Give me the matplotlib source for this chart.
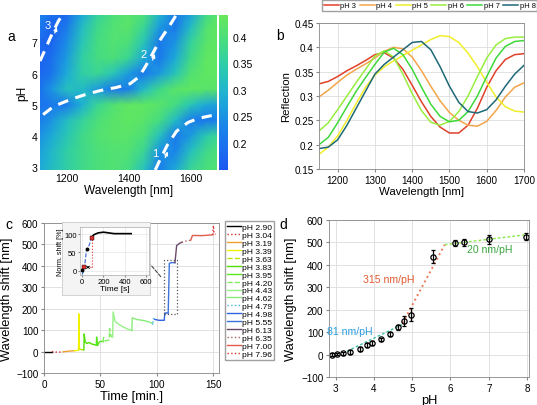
import numpy as np
import matplotlib
matplotlib.use('Agg')
import matplotlib.pyplot as plt
from matplotlib.colors import LinearSegmentedColormap

plt.rcParams['font.family'] = ['Liberation Sans', 'DejaVu Sans']

# ---------------- Panel a data ----------------
heat_wl = [1115, 1150, 1200, 1250, 1300, 1350, 1400, 1450, 1500, 1550, 1600, 1650, 1685]
heat_ph = [2.9, 3.5, 4.0, 4.5, 5.0, 5.5, 6.0, 6.5, 7.0, 7.5, 7.9]
heat_refl = [
    [0.28, 0.31, 0.35, 0.38, 0.40, 0.41, 0.39, 0.32, 0.22, 0.28, 0.37, 0.40, 0.41],
    [0.27, 0.30, 0.35, 0.38, 0.40, 0.41, 0.41, 0.37, 0.25, 0.23, 0.32, 0.38, 0.40],
    [0.25, 0.28, 0.33, 0.38, 0.41, 0.42, 0.42, 0.40, 0.32, 0.21, 0.26, 0.34, 0.37],
    [0.22, 0.25, 0.31, 0.36, 0.40, 0.42, 0.43, 0.42, 0.39, 0.31, 0.22, 0.21, 0.22],
    [0.20, 0.21, 0.21, 0.29, 0.37, 0.41, 0.43, 0.43, 0.42, 0.39, 0.33, 0.28, 0.27],
    [0.20, 0.25, 0.32, 0.31, 0.26, 0.21, 0.22, 0.31, 0.38, 0.42, 0.43, 0.42, 0.42],
    [0.18, 0.20, 0.28, 0.35, 0.37, 0.33, 0.26, 0.21, 0.26, 0.33, 0.41, 0.43, 0.43],
    [0.17, 0.19, 0.26, 0.35, 0.39, 0.40, 0.37, 0.28, 0.21, 0.28, 0.38, 0.43, 0.43],
    [0.18, 0.17, 0.24, 0.33, 0.39, 0.41, 0.40, 0.33, 0.21, 0.25, 0.36, 0.42, 0.43],
    [0.21, 0.17, 0.21, 0.31, 0.38, 0.41, 0.42, 0.37, 0.26, 0.21, 0.31, 0.41, 0.43],
    [0.23, 0.19, 0.18, 0.28, 0.36, 0.40, 0.42, 0.40, 0.30, 0.21, 0.27, 0.38, 0.42],
]
min1_wl = [1486, 1505, 1525, 1555, 1592, 1625, 1668]
min1_ph = [2.9, 3.3, 3.7, 4.15, 4.43, 4.56, 4.65]
min2_wl = [1125, 1160, 1217, 1260, 1308, 1360, 1405, 1432, 1450, 1470, 1500, 1530, 1555]
min2_ph = [4.68, 4.95, 5.18, 5.32, 5.45, 5.55, 5.67, 5.88, 6.15, 6.5, 7.05, 7.5, 7.9]
min3_wl = [1115, 1135, 1155, 1175, 1188]
min3_ph = [6.4, 6.85, 7.3, 7.7, 7.88]

# ---------------- Panel b data ----------------
spec_wl = [1150, 1175, 1200, 1225, 1250, 1275, 1300, 1325, 1350, 1375, 1400, 1425,
           1450, 1475, 1500, 1525, 1550, 1575, 1600, 1625, 1650, 1675, 1700]
spec_ph3 = [.325, .330, .340, .352, .362, .373, .385, .389, .378, .355, .322, .288,
            .258, .236, .224, .224, .240, .275, .318, .352, .375, .385, .387]
spec_ph4 = [.298, .312, .328, .343, .355, .366, .378, .392, .400, .397, .380, .352,
            .320, .290, .266, .250, .240, .238, .248, .270, .298, .318, .327]
spec_ph5 = [.180, .195, .218, .250, .285, .318, .343, .360, .372, .383, .394, .405,
            .416, .424, .422, .410, .388, .360, .328, .298, .278, .269, .267]
spec_ph6 = [.228, .245, .272, .300, .328, .355, .382, .393, .380, .345, .305, .270,
            .246, .240, .248, .268, .300, .340, .378, .405, .418, .421, .421]
spec_ph7 = [.200, .215, .245, .278, .310, .338, .365, .390, .398, .385, .355, .318,
            .283, .258, .247, .250, .268, .300, .340, .378, .402, .412, .414]
spec_ph8 = [.192, .195, .210, .240, .275, .310, .345, .365, .380, .395, .410, .412,
            .395, .360, .320, .287, .268, .265, .272, .292, .320, .345, .363]
spec_labels = ['pH 3', 'pH 4', 'pH 5', 'pH 6', 'pH 7', 'pH 8']
spec_colors = ['#e0402a', '#f2a54a', '#f0ee2a', '#98ee40', '#3ed83a', '#1e6878']

# ---------------- Panel c data ----------------
c_labels = ['pH 2.90', 'pH 3.04', 'pH 3.19', 'pH 3.39', 'pH 3.63', 'pH 3.83', 'pH 3.95',
            'pH 4.20', 'pH 4.43', 'pH 4.62', 'pH 4.79', 'pH 4.98', 'pH 5.55', 'pH 6.13',
            'pH 6.35', 'pH 7.00', 'pH 7.96']
c_colors = ['#000000', '#d83030', '#f0a030', '#f0f000', '#b8e800', '#50e000', '#58e820',
            '#80f060', '#98f088', '#88ec78', '#40b8e0', '#2e64e0', '#3c72d8', '#6a4a6a',
            '#a86060', '#e25a48', '#e03030']
c_styles = ['-', ':', '-', '-', '--', '-', '-', '--', '-', '-', ':', '-', '-', '-', ':', '-', ':']
c_t = [
    [0, 7], [7, 12, 17], [17, 22, 27], [27, 30.6, 30.8, 31.3], [31.3, 33, 35.3],
    [35.3, 35.6, 36.5, 38, 40, 42, 44, 46.3],
    [46.3, 46.6, 47.5, 49, 51, 52.4],
    [52.4, 52.7, 54, 56, 57.8, 58.1, 59.5, 60.8],
    [60.8, 61.2, 63, 66, 70, 74, 77.8],
    [77.8, 78.2, 82, 88, 92, 96],
    [96, 96.3, 97, 98],
    [98, 102, 106.5, 107, 110],
    [110, 111, 113, 116],
    [116, 117.5, 120, 122],
    [122, 126, 130],
    [130, 131.5, 140, 149.5],
    [149.5, 150, 150.6, 152],
]
c_y = [
    [0, 0], [0, -3, -1], [-1, 2, 4], [4, 6, 176, 12], [12, 9, 8],
    [8, 82, 45, 38, 42, 36, 33, 30],
    [30, 68, 28, 45, 48, 46],
    [46, 66, 50, 52, 55, 108, 70, 68],
    [68, 185, 140, 128, 115, 105, 98],
    [98, 158, 150, 145, 140, 132],
    [132, 125, 155, 150],
    [150, 146, 146, 180, 180],
    [180, 412, 415, 415],
    [415, 495, 505, 510],
    [510, 516, 520],
    [520, 542, 541, 545],
    [545, 588, 550, 548],
]
inset_blue_t = [0, 20, 40, 60, 90]
inset_blue_y = [-10, 5, 55, 65, 90]
inset_black_t = [90, 110, 150, 200, 300, 400, 460]
inset_black_y = [92, 98, 103, 105, 101, 101, 101]

# ---------------- Panel d data ----------------
d_ph = [2.90, 3.04, 3.19, 3.39, 3.63, 3.83, 3.95, 4.20, 4.43, 4.62, 4.79, 4.98, 5.55,
        6.13, 6.35, 7.00, 7.96]
d_shift = [0, 2, 6, 12, 25, 42, 52, 68, 92, 122, 148, 178, 437, 497, 500, 515, 525]
d_err = [5, 5, 6, 8, 8, 8, 8, 8, 8, 12, 22, 30, 30, 15, 15, 20, 15]
fit1_ph = [3.3, 4.75]; fit1_y = [15, 135]
fit2_ph = [4.75, 5.85]; fit2_y = [140, 490]
fit3_ph = [5.85, 8.0]; fit3_y = [490, 535]

W, H = 537, 406
fig = plt.figure(figsize=(W / 100, H / 100), dpi=100)

def ax_px(l, t, r, b):
    return fig.add_axes([l / W, 1 - b / H, (r - l) / W, (b - t) / H])

grid_kw = dict(color='#dddddd', linewidth=0.6)
TICK = 7.1

# ---- panel a ----
axa = ax_px(40, 16, 217, 171)
cmap = LinearSegmentedColormap.from_list('bg', [
    (0.0, '#1c58f2'), (0.28, '#1a84ea'), (0.48, '#1eb0d4'),
    (0.66, '#2ccbae'), (0.82, '#44dc84'), (1.0, '#66e85a')])
X, Y = np.meshgrid(heat_wl, heat_ph)
pm = axa.pcolormesh(X, Y, np.array(heat_refl), shading='gouraud', cmap=cmap,
                    vmin=0.149, vmax=0.441)
for wl, ph in [(min1_wl, min1_ph), (min2_wl, min2_ph), (min3_wl, min3_ph)]:
    axa.plot(wl, ph, color='white', lw=2.2, dashes=(3.5, 2.5))
axa.set_xlim(1115, 1685)
axa.set_ylim(2.9, 7.88)
axa.set_xticks([1200, 1400, 1600])
axa.set_yticks([3, 4, 5, 6, 7])
axa.tick_params(labelsize=7.6, length=0, pad=2)
for s in axa.spines.values():
    s.set_visible(False)
axa.set_xlabel('Wavelength [nm]', fontsize=8.6, labelpad=1)
axa.set_ylabel('pH', fontsize=8.6, labelpad=2)
for lab, (tx, ty), (ax0, ay0, ax1, ay1) in [
        ('1', (1486, 3.46), (1515, 3.22, 1530, 3.58)),
        ('2', (1450, 6.63), (1475, 6.35, 1487, 6.72)),
        ('3', (1140, 7.55), (1160, 7.22, 1172, 7.58))]:
    axa.text(tx, ty, lab, color='white', fontsize=8, ha='center', va='center')
    axa.annotate('', xy=(ax1, ay1), xytext=(ax0, ay0),
                 arrowprops=dict(arrowstyle='-|>', color='white', lw=1.0,
                                 mutation_scale=5))
cax = ax_px(219, 16, 228, 171)
cb = fig.colorbar(pm, cax=cax, ticks=[0.2, 0.25, 0.3, 0.35, 0.4])
cb.ax.set_yticklabels(['0.2', '0.25', '0.3', '0.35', '0.4'])
cb.ax.tick_params(labelsize=7.6, length=0, pad=3)
cb.outline.set_visible(False)
fig.text(7 / W, 1 - 37 / H, 'a', fontsize=10, va='center')

# ---- panel b ----
axb = ax_px(319, 24, 524, 170)
specs = [spec_ph3, spec_ph4, spec_ph5, spec_ph6, spec_ph7, spec_ph8]
handles = []
for sp, lab, col in zip(specs, spec_labels, spec_colors):
    h, = axb.plot(spec_wl, sp, color=col, lw=1.1, label=lab)
    handles.append(h)
axb.set_xlim(1150, 1700)
axb.set_ylim(0.15, 0.45)
axb.set_xticks([1200, 1300, 1400, 1500, 1600, 1700])
axb.set_yticks([0.15, 0.2, 0.25, 0.3, 0.35, 0.4, 0.45])
axb.set_yticklabels(['0.15', '0.2', '0.25', '0.3', '0.35', '0.4', '0.45'])
axb.grid(True, **grid_kw)
axb.tick_params(labelsize=TICK, length=2, pad=2, color='#888888')
for s in axb.spines.values():
    s.set_color('#888888'); s.set_linewidth(0.6)
axb.set_xlabel('Wavelength [nm]', fontsize=8.2, labelpad=1)
axb.set_ylabel('Reflection', fontsize=8.2, labelpad=2)
fig.legend(handles=handles, loc='upper left', bbox_to_anchor=(322 / W, 1 - 1 / H),
           ncol=6, fontsize=5.4, handlelength=2.0, handletextpad=0.2, columnspacing=0.45,
           borderpad=0.25, borderaxespad=0, frameon=True, fancybox=False,
           edgecolor='#888888')
fig.text(276 / W, 1 - 36 / H, 'b', fontsize=10, va='center')

# ---- panel c ----
axc = ax_px(44, 224, 219, 374)
ch = []
for t, y, col, ls, lab in zip(c_t, c_y, c_colors, c_styles, c_labels):
    h, = axc.plot(t, y, color=col, ls=ls, lw=1.0, label=lab)
    ch.append(h)
axc.plot([106.5, 117.5, 117.5, 106.5, 106.5], [175, 175, 428, 428, 175],
         color='#555555', ls=':', lw=0.9)
axc.annotate('', xy=(77, 512), xytext=(105, 340),
             arrowprops=dict(arrowstyle='-|>', color='#333333', lw=0.7, ls='--',
                             mutation_scale=9))
axc.set_xlim(0, 155)
axc.set_ylim(-100, 600)
axc.set_xticks([0, 50, 100, 150])
axc.set_yticks(list(range(-100, 601, 100)))
axc.grid(True, **grid_kw)
axc.tick_params(labelsize=TICK, length=2, pad=2, color='#888888')
for s in axc.spines.values():
    s.set_color('#888888'); s.set_linewidth(0.6)
axc.set_xlabel('Time [min.]', fontsize=9.3, labelpad=1)
axc.set_ylabel('Wavelength shift [nm]', fontsize=9.3, labelpad=2)
fig.legend(handles=ch, loc='upper left', bbox_to_anchor=(225 / W, 1 - 222 / H),
           fontsize=6.1, handlelength=1.6, handletextpad=0.1, labelspacing=0.0,
           borderpad=0.25, borderaxespad=0, frameon=True, fancybox=False,
           edgecolor='#888888')
fig.text(5 / W, 1 - 225 / H, 'c', fontsize=10, va='center')

# inset frame + axes
frame = ax_px(62, 223, 150, 296)
frame.set_xticks([]); frame.set_yticks([])
frame.set_facecolor('#f4f4f4')
for s in frame.spines.values():
    s.set_color('#cccccc'); s.set_linewidth(0.6)
axi = ax_px(80, 228, 149, 276)
axi.plot(inset_blue_t, inset_blue_y, color='#3060d0', ls='--', lw=0.8)
axi.plot(inset_black_t, inset_black_y, color='black', lw=1.2)
axi.plot([95, 95], [10, 90], color='#e03030', ls=':', lw=0.8)
axi.plot([15, 95], [10, 10], color='#e03030', ls=':', lw=0.8)
axi.annotate('', xy=(95, 10), xytext=(15, 10),
             arrowprops=dict(arrowstyle='<->', color='black', lw=0.6, mutation_scale=4))
axi.plot([15, 95], [10, 90], 's', ms=2.5, mfc='#e03030', mec='black', mew=0.3)
axi.plot([3, 45], [2, 60], 'o', ms=1.8, color='black')
axi.set_xlim(-20, 627)
axi.set_ylim(-11, 119)
axi.set_xticks([0, 200, 400, 600])
axi.set_yticks([0, 50, 100])
axi.grid(True, color='#e4e4e4', linewidth=0.5)
axi.tick_params(labelsize=5.5, length=1.5, pad=1, color='#888888')
for s in axi.spines.values():
    s.set_color('#aaaaaa'); s.set_linewidth(0.5)
axi.set_xlabel('Time [s]', fontsize=6, labelpad=0)
axi.set_ylabel('Norm. shift [%]', fontsize=5.2, labelpad=0)

# ---- panel d ----
axd = ax_px(329, 221, 529, 378)
axd.plot(fit1_ph, fit1_y, color='#40c0a8', ls='--', lw=1.0, dashes=(2, 1.5))
axd.plot(fit2_ph, fit2_y, color='#f07a58', ls=':', lw=1.4)
axd.plot(fit3_ph, fit3_y, color='#8ae848', ls='--', lw=1.0, dashes=(2, 1.5))
axd.errorbar(d_ph, d_shift, yerr=d_err, fmt='o', ms=3.8, mfc='none', mec='black',
             mew=0.9, ecolor='black', elinewidth=0.9, capsize=1.6)
axd.text(3.38, 106, '81 nm/pH', color='#2a9ee0', fontsize=7.6, ha='center', va='center')
axd.text(4.38, 337, '315 nm/pH', color='#e05a30', fontsize=7.6, ha='center', va='center')
axd.text(7.02, 470, '20 nm/pH', color='#3aa640', fontsize=7.6, ha='center', va='center')
axd.set_xlim(2.83, 8.05)
axd.set_ylim(-100, 600)
axd.set_xticks([3, 4, 5, 6, 7, 8])
axd.set_yticks(list(range(-100, 601, 100)))
axd.grid(True, **grid_kw)
axd.tick_params(labelsize=TICK, length=2, pad=2, color='#888888')
for s in axd.spines.values():
    s.set_color('#888888'); s.set_linewidth(0.6)
axd.set_xlabel('pH', fontsize=9.3, labelpad=1)
axd.set_ylabel('Wavelength shift [nm]', fontsize=9.3, labelpad=3)
fig.text(279 / W, 1 - 225 / H, 'd', fontsize=10, va='center')

fig.savefig('out.png', dpi=100)
